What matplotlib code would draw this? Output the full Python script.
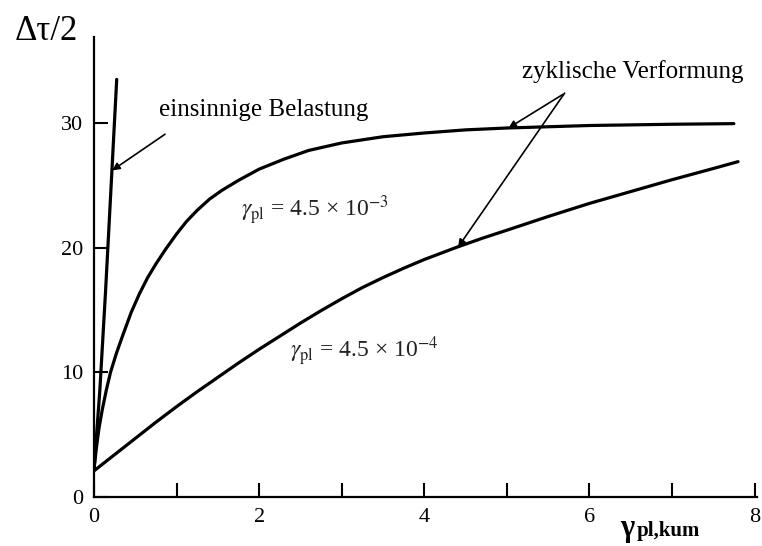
import numpy as np
import matplotlib.pyplot as plt

# einsinnige Belastung (monotonic loading)
strain_uni = [0.0, 0.07, 0.14, 0.21, 0.275]
tau_uni = [2.2, 8.5, 16.5, 25.3, 33.5]

# cyclic, gamma_pl = 4.5e-3
strain_hi = [0.0, 0.03, 0.06, 0.1, 0.15, 0.2, 0.27, 0.35, 0.45, 0.55, 0.65,
             0.75, 0.87, 1.0, 1.12, 1.25, 1.4, 1.55, 1.75, 2.0, 2.3, 2.6,
             3.0, 3.5, 4.0, 4.5, 5.0, 5.5, 6.0, 6.5, 7.0, 7.75]
tau_hi = [2.2, 4.0, 5.5, 7.0, 8.6, 10.0, 11.5, 13.0, 14.8, 16.3, 17.6,
          18.7, 19.9, 21.1, 22.1, 23.0, 23.9, 24.6, 25.4, 26.3, 27.1, 27.8,
          28.4, 28.9, 29.2, 29.45, 29.6, 29.7, 29.8, 29.85, 29.9, 29.95]

# cyclic, gamma_pl = 4.5e-4
strain_lo = [0.0, 0.25, 0.5, 0.75, 1.0, 1.25, 1.5, 1.75, 2.0, 2.25, 2.5,
             2.75, 3.0, 3.25, 3.5, 3.75, 4.0, 4.4, 4.7, 5.0, 5.5, 6.0, 6.5,
             7.0, 7.5, 7.8]
tau_lo = [2.1, 3.4, 4.7, 6.0, 7.25, 8.45, 9.6, 10.75, 11.85, 12.9, 13.95,
          14.95, 15.9, 16.8, 17.6, 18.35, 19.05, 20.05, 20.75, 21.4, 22.5,
          23.55, 24.5, 25.45, 26.35, 26.9]

xticks_major = [0, 2, 4, 6, 8]
xticks_minor = [1, 3, 5, 7]
yticks = [0, 10, 20, 30]

plt.rcParams['font.family'] = ['Liberation Serif', 'DejaVu Serif']
plt.rcParams['mathtext.fontset'] = 'stix'

fig = plt.figure(figsize=(7.62, 5.46), dpi=100)
ax = fig.add_axes([94/762, 49/546, 663/762, 460/546])

for xs, ys in [(strain_uni, tau_uni), (strain_hi, tau_hi), (strain_lo, tau_lo)]:
    ax.plot(xs, ys, color='black', lw=2.3, solid_joinstyle='round',
            solid_capstyle='round')

ax.set_xlim(0, 8.03)
ax.set_ylim(0, 36.9)
ax.spines['top'].set_visible(False)
ax.spines['right'].set_visible(False)
ax.spines['left'].set_linewidth(1.6)
ax.spines['bottom'].set_linewidth(1.6)

ax.set_xticks(xticks_major)
ax.set_xticks(xticks_minor, minor=True)
ax.set_yticks(yticks)
ax.tick_params(which='both', direction='in', length=10, width=1.5,
               labelsize=16, pad=8)

arrow = dict(arrowstyle='-|>', lw=1.2, color='black', mutation_scale=11,
             shrinkA=0, shrinkB=0)

ax.annotate('', xy=(0.22, 26.2), xytext=(0.86, 29.1), arrowprops=arrow)
ax.text(2.06, 30.6, 'einsinnige Belastung', ha='center', va='baseline',
        fontsize=18)

ax.annotate('', xy=(5.02, 29.6), xytext=(5.68, 32.3), arrowprops=arrow)
ax.annotate('', xy=(4.41, 20.05), xytext=(5.70, 32.4), arrowprops=arrow)
ax.text(6.52, 33.65, 'zyklische Verformung', ha='center', va='baseline',
        fontsize=18)

ax.text(2.68, 23.0, r'$\gamma_{\rm pl}$ = 4.5 × 10$^{-3}$', ha='center',
        va='center', fontsize=17, color='#222222')
ax.text(3.28, 11.65, r'$\gamma_{\rm pl}$ = 4.5 × 10$^{-4}$', ha='center',
        va='center', fontsize=17, color='#222222')

fig.text(15/762, 1 - 40/546, 'Δτ/2', fontsize=25, va='baseline', ha='left')
fig.text(620/762, 1 - 536/546, 'γ', fontsize=22, fontweight='bold',
         va='baseline', ha='left')
fig.text(637/762, 1 - 536/546, 'pl,kum', fontsize=15, fontweight='bold',
         va='baseline', ha='left')

fig.savefig('out.png', dpi=100)
